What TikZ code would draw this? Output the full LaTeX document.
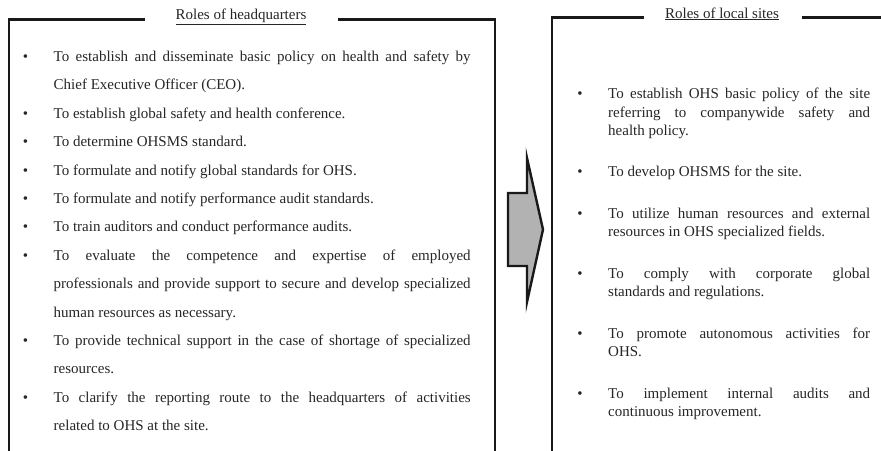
\documentclass[tikz,border=0pt]{standalone}
\usepackage{fontspec}
\setmainfont{Liberation Serif}
\begin{document}
\begin{tikzpicture}[x=1pt,y=-1pt,
  txt/.style={anchor=base west, inner sep=0pt, text=black!85, font=\fontsize{15}{18}\selectfont},
  bul/.style={anchor=base, inner sep=0pt, text=black!85, font=\fontsize{15}{18}\selectfont},
  ttl/.style={anchor=base, inner sep=0pt, text=black!85, font=\fontsize{15}{18}\selectfont},
  frame/.style={line width=2.4pt, draw=black!90},
  bigarrow/.style={line width=2.4pt, draw=black!90, fill=black!30, line join=miter}]
\useasboundingbox (0,0) rectangle (881,450);
\clip (0,0) rectangle (881,450);
\newcommand{\jl}[1]{\makebox[417pt][s]{#1}}
\newcommand{\jr}[1]{\makebox[262pt][s]{#1}}
% frames
\draw[frame] (145,19.5) -- (9,19.5) -- (9,460);
\draw[frame] (338,19.5) -- (495,19.5) -- (495,460);
\draw[frame] (644,17.5) -- (552,17.5) -- (552,460);
\draw[frame] (802,17.5) -- (890,17.5);
% titles
\node[ttl] (t1) at (241,19.3) {\underline{Roles of headquarters}};
\node[ttl] (t2) at (722,18) {\underline{Roles of local sites}};
% arrow
\draw[bigarrow] (508,193) -- (527,193) -- (527,158) -- (543,229.5) -- (527,302) -- (527,266) -- (508,266) -- cycle;
% left list
\foreach \k/\b in {0/1,2/1,3/1,4/1,5/1,6/1,7/1,10/1,12/1}{
  \node[bul] (lb\k) at (25.5,{61.5+28.4*\k}) {•};
}
\node[txt] (l1) at (53.5,61.5) {\jl{To establish and disseminate basic policy on health and safety by}};
\node[txt] (l2) at (53.5,89.9) {Chief Executive Officer (CEO).};
\node[txt] (l3) at (53.5,118.3) {To establish global safety and health conference.};
\node[txt] (l4) at (53.5,146.7) {To determine OHSMS standard.};
\node[txt] (l5) at (53.5,175.1) {To formulate and notify global standards for OHS.};
\node[txt] (l6) at (53.5,203.5) {To formulate and notify performance audit standards.};
\node[txt] (l7) at (53.5,231.9) {To train auditors and conduct performance audits.};
\node[txt] (l8) at (53.5,260.3) {\jl{To evaluate the competence and expertise of employed}};
\node[txt] (l9) at (53.5,288.7) {\jl{professionals and provide support to secure and develop specialized}};
\node[txt] (l10) at (53.5,317.1) {human resources as necessary.};
\node[txt] (l11) at (53.5,345.5) {\jl{To provide technical support in the case of shortage of specialized}};
\node[txt] (l12) at (53.5,373.9) {resources.};
\node[txt] (l13) at (53.5,402.3) {\jl{To clarify the reporting route to the headquarters of activities}};
\node[txt] (l14) at (53.5,430.7) {related to OHS at the site.};
% right list
\foreach \y [count=\i] in {98.5,176.9,218.3,278.2,338.1,398}{
  \node[bul] (rb\i) at (580,\y) {•};
}
\node[txt] (r1) at (608,98.5) {\jr{To establish OHS basic policy of the site}};
\node[txt] (r2) at (608,117) {\jr{referring to companywide safety and}};
\node[txt] (r3) at (608,135.5) {health policy.};
\node[txt] (r4) at (608,176.9) {To develop OHSMS for the site.};
\node[txt] (r5) at (608,218.3) {\jr{To utilize human resources and external}};
\node[txt] (r6) at (608,236.8) {resources in OHS specialized fields.};
\node[txt] (r7) at (608,278.2) {\jr{To comply with corporate global}};
\node[txt] (r8) at (608,296.7) {standards and regulations.};
\node[txt] (r9) at (608,338.1) {\jr{To promote autonomous activities for}};
\node[txt] (r10) at (608,356.6) {OHS.};
\node[txt] (r11) at (608,398) {\jr{To implement internal audits and}};
\node[txt] (r12) at (608,416.5) {continuous improvement.};
\end{tikzpicture}
\end{document}
